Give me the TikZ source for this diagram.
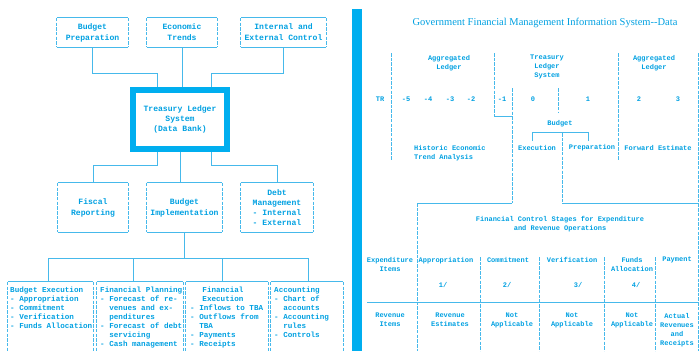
\documentclass[tikz,border=0pt]{standalone}
\usepackage{fontspec}
\newfontfamily\mono{Liberation Mono}
\newfontfamily\serf{Liberation Serif}
\usetikzlibrary{calc}
\definecolor{ink}{RGB}{0,160,225}
\definecolor{lc}{RGB}{70,185,235}
\definecolor{barc}{RGB}{0,174,239}
\newcommand\tbord[1]{%
  \draw[ln] (#1.north west) -- (#1.north east) (#1.south west) -- (#1.south east);
  \draw[ln,dl] (#1.north west) -- (#1.south west) (#1.north east) -- (#1.south east);}
\newcommand\obord[1]{%
  \draw[ln] (#1.north west) -- (#1.north east);
  \draw[ln,dl] (#1.north west) -- (#1.south west) (#1.north east) -- (#1.south east);}
\begin{document}
\begin{tikzpicture}[x=1pt,y=-1pt,
  ln/.style={draw=lc,line width=0.8pt},
  dl/.style={dash pattern=on 3.5pt off 1.2pt},
  bx/.style={inner sep=0pt,draw=none,text=ink,align=center,font=\mono\bfseries\fontsize{8.1}{11}\selectfont},
  tb/.style={inner sep=0pt,text=ink,align=left,anchor=north west,font=\mono\bfseries\fontsize{7.6}{9}\selectfont},
  ts/.style={inner sep=0pt,text=ink,align=center,font=\mono\bfseries\fontsize{7}{9}\selectfont},
]
\useasboundingbox (0,0) rectangle (700,351);
% ---------- left diagram ----------
\node[bx,minimum width=71pt,minimum height=29pt] (bp) at (92.5,32.5) {Budget\\Preparation};
\node[bx,minimum width=70pt,minimum height=29pt] (et) at (182,32.5) {Economic\\Trends};
\node[bx,minimum width=85pt,minimum height=29pt] (iec) at (283.5,32.5) {Internal and\\External Control};
\tbord{bp}\tbord{et}\tbord{iec}
\node[bx,draw=barc,line width=6pt,minimum width=94pt,minimum height=59pt,
      font=\mono\bfseries\fontsize{8.1}{10}\selectfont] (tls) at (180,119.5) {Treasury Ledger\\System\\(Data Bank)};
\coordinate (j1) at (157,73);
\coordinate (j2) at (211,73);
\draw[ln] (bp.south) |- (j1) -- (j1 |- tls.north);
\draw[ln] (et.south) -- (et.south |- tls.north);
\draw[ln] (iec.south) |- (j2) -- (j2 |- tls.north);

\node[bx,minimum width=70pt,minimum height=49pt] (fr) at (93,207.5) {Fiscal\\Reporting};
\node[bx,minimum width=75pt,minimum height=49pt] (bi) at (184.5,207.5) {Budget\\Implementation};
\node[bx,minimum width=72pt,minimum height=49pt,font=\mono\bfseries\fontsize{8.1}{10}\selectfont] (dm) at (277,207.5) {Debt\\Management\\- Internal\\- External};
\tbord{fr}\tbord{bi}\tbord{dm}
\coordinate (j3) at (157,165);
\coordinate (j4) at (211,165);
\draw[ln] (j3 |- tls.south) -- (j3) -| (fr.north);
\draw[ln] (tls.south) -- (tls.south |- bi.north);
\draw[ln] (j4 |- tls.south) -- (j4) -| (dm.north);

\node[minimum width=85pt,minimum height=69pt,inner sep=0pt] (be) at (50.5,316.5) {};
\node[minimum width=86pt,minimum height=69pt,inner sep=0pt] (fp) at (140,316.5) {};
\node[minimum width=82pt,minimum height=69pt,inner sep=0pt] (fe) at (227,316.5) {};
\node[minimum width=72pt,minimum height=69pt,inner sep=0pt] (ac) at (307,316.5) {};
\obord{be}\obord{fp}\obord{fe}\obord{ac}
\coordinate (b1) at (48,258);
\coordinate (b2) at (133,258);
\coordinate (b3) at (222,258);
\coordinate (b4) at (308,258);
\draw[ln] (bi.south) -- (bi.south |- b1);
\draw[ln] (b1) -- (b4);
\draw[ln] (b1) -- (b1 |- be.north);
\draw[ln] (b2) -- (b2 |- fp.north);
\draw[ln] (b3) -- (b3 |- fe.north);
\draw[ln] (b4) -- (b4 |- ac.north);

\node[tb] (bet) at (10,287) {Budget Execution\\- Appropriation\\- Commitment\\- Verification\\- Funds Allocation};
\node[tb] (fpt) at (100,287) {Financial Planning\\- Forecast of re-\\\hphantom{- }venues and ex-\\\hphantom{- }penditures\\- Forecast of debt\\\hphantom{- }servicing\\- Cash management};
\node[tb,anchor=north,align=center] (feh) at (223,287) {Financial\\Execution};
\node[tb] (fet) at (190,305) {- Inflows to TBA\\- Outflows from\\\hphantom{- }TBA\\- Payments\\- Receipts};
\node[tb] (act) at (274,287) {Accounting\\- Chart of\\\hphantom{- }accounts\\- Accounting\\\hphantom{- }rules\\- Controls};

% ---------- divider ----------
\fill[barc] (352,9) rectangle (362,351);

% ---------- right diagram ----------
\node[font=\serf\fontsize{10.5}{12}\selectfont,text=ink,inner sep=0pt] (title) at (545,23) {Government Financial Management Information System-{}-Data};

\node[ts,anchor=north] (ag1) at (449,55) {Aggregated\\Ledger};
\node[ts,anchor=north] (tl) at (547,55) {Treasury\\Ledger\\System};
\node[ts,anchor=north] (ag2) at (654,55) {Aggregated\\Ledger};
\foreach \t/\x/\n in {TR/380/tr,-5/406/m5,-4/428/m4,-3/450/m3,-2/471/m2,-1/502/m1,0/533/p0,1/588/p1,2/639/p2,3/678/p3}
  \node[ts] (\n) at (\x,99) {\t};
\node[ts] (bud) at (560,124) {Budget};
\node[ts,anchor=north west,align=left] (hist) at (414,145) {Historic Economic\\Trend Analysis};
\node[ts] (exe) at (537,148) {Execution};
\node[ts] (prep) at (592,148) {Preparation};
\node[ts] (fwd) at (658,148) {Forward Estimate};

\draw[ln,dl] (391,53) -- (391,160);
\draw[ln,dl] (494,53) -- (494,116);
\draw[ln] (494,116) -- (512,116);
\draw[ln,dl] (512,88) -- (512,203);
\draw[ln] (512,203) -- (417,203);
\draw[ln,dl] (417,203) -- (417,351);
\draw[ln,dl] (558,88) -- (558,113);
\draw[ln] (532,141) -- (532,132) -- (588,132) -- (588,141);
\draw[ln,dl] (562,133) -- (562,203);
\draw[ln] (562,203) -- (698,203);
\draw[ln,dl] (618,53) -- (618,160);
\draw[ln,dl] (698,53) -- (698,351);
\foreach \x in {480,539,604,655} \draw[ln,dl] (\x,257) -- (\x,351);
\draw[ln] (367,302) -- (698,302);

\node[ts,anchor=north] (fcs) at (560,216) {Financial Control Stages for Expenditure\\and Revenue Operations};
\node[ts,anchor=north] (ei) at (390,257) {Expenditure\\Items};
\node[ts,anchor=north] (app) at (446,257) {Appropriation};
\node[ts,anchor=north] (com) at (508,257) {Commitment};
\node[ts,anchor=north] (ver) at (572,257) {Verification};
\node[ts,anchor=north] (fa) at (632,257) {Funds\\Allocation};
\node[ts,anchor=north] (pay) at (677,257) {Payment};
\node[ts] (n1) at (443,285) {1/};
\node[ts] (n2) at (507,285) {2/};
\node[ts] (n3) at (578,285) {3/};
\node[ts] (n4) at (636,285) {4/};
\node[ts,anchor=north] (ri) at (390,313) {Revenue\\Items};
\node[ts,anchor=north] (re) at (450,313) {Revenue\\Estimates};
\node[ts,anchor=north] (na1) at (512,313) {Not\\Applicable};
\node[ts,anchor=north] (na2) at (572,313) {Not\\Applicable};
\node[ts,anchor=north] (na3) at (632,313) {Not\\Applicable};
\node[ts,anchor=north] (ar) at (677,313) {Actual\\Revenues\\and\\Receipts};
\end{tikzpicture}
\end{document}
